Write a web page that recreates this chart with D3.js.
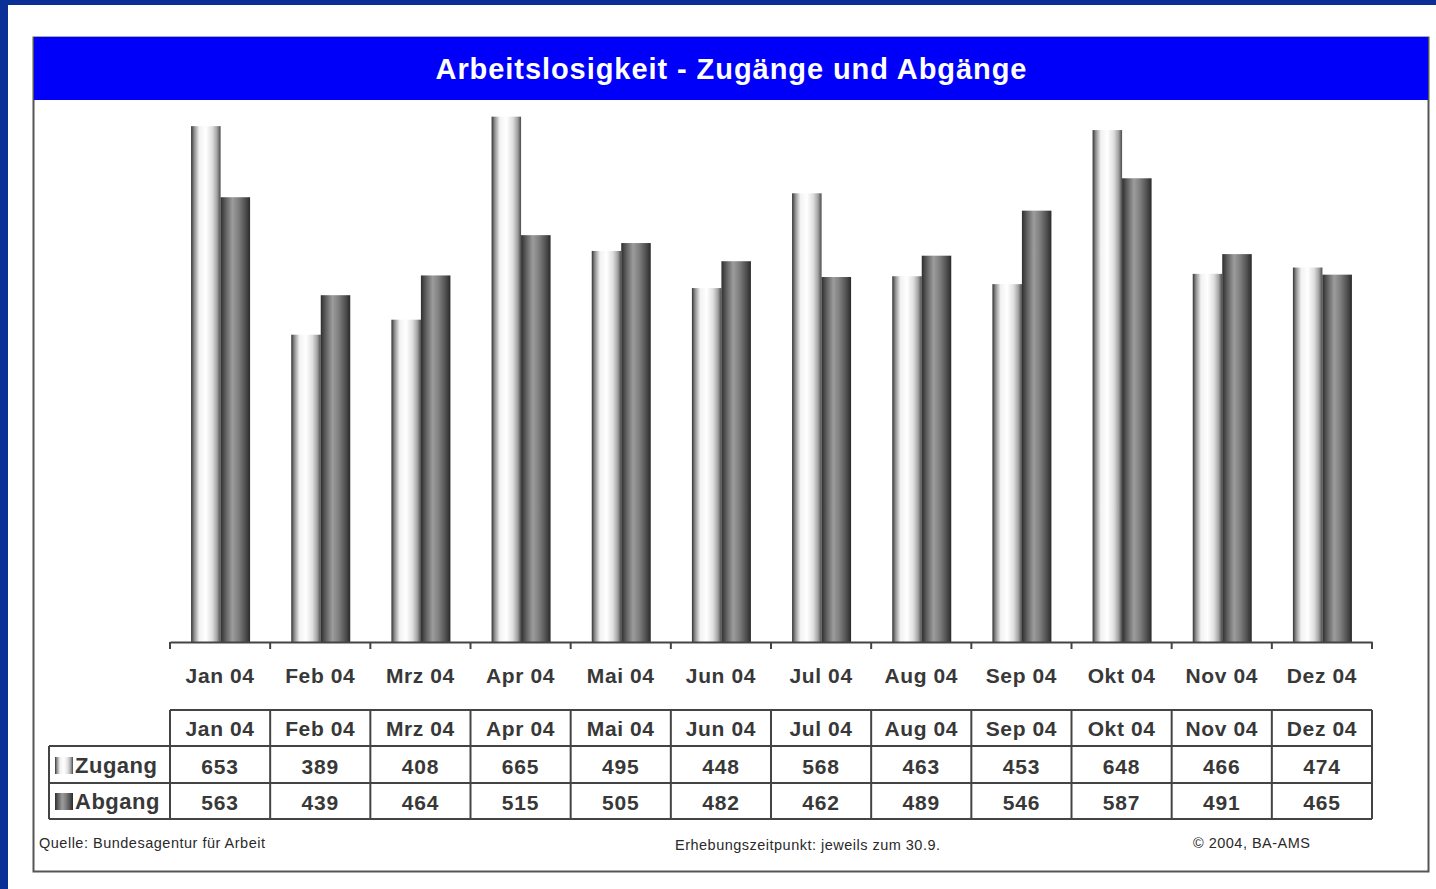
<!DOCTYPE html>
<html>
<head>
<meta charset="utf-8">
<script src="https://cdn.jsdelivr.net/npm/d3@7"></script>
<style>
  html, body { margin: 0; padding: 0; background: #fff; }
  svg { display: block; font-family: "Liberation Sans", Arial, sans-serif; }
</style>
</head>
<body>
<div id="chart"></div>
<script>
var months = ["Jan 04", "Feb 04", "Mrz 04", "Apr 04", "Mai 04", "Jun 04",
              "Jul 04", "Aug 04", "Sep 04", "Okt 04", "Nov 04", "Dez 04"];
var zugang = [653, 389, 408, 665, 495, 448, 568, 463, 453, 648, 466, 474];
var abgang = [563, 439, 464, 515, 505, 482, 462, 489, 546, 587, 491, 465];
var seriesNames = ["Zugang", "Abgang"];

var width = 1436, height = 889;
var textColor = "#383838";
var lineColor = "#444";

var svg = d3.select("#chart").append("svg")
    .attr("width", width)
    .attr("height", height);

// gradients for the cylinder look of the bars
var defs = svg.append("defs");
var gradStops = {
  gZugang: [[0, "#333"], [0.1, "#8a8a8a"], [0.28, "#f2f2f2"], [0.5, "#ffffff"],
            [0.72, "#dedede"], [0.88, "#a2a2a2"], [1, "#4a4a4a"]],
  gAbgang: [[0, "#2e2e2e"], [0.15, "#5a5a5a"], [0.4, "#9c9c9c"], [0.6, "#808080"],
            [0.85, "#4e4e4e"], [1, "#2a2a2a"]]
};
Object.keys(gradStops).forEach(function(id){
  var lg = defs.append("linearGradient").attr("id", id)
      .attr("x1", "0").attr("x2", "1").attr("y1", "0").attr("y2", "0");
  gradStops[id].forEach(function(s){
    lg.append("stop").attr("offset", s[0]).attr("stop-color", s[1]);
  });
});

// outer blue frame
svg.append("rect").attr("x", 0).attr("y", 0).attr("width", width).attr("height", 5).attr("fill", "#0a2f96");
svg.append("rect").attr("x", 0).attr("y", 0).attr("width", 8).attr("height", height).attr("fill", "#0a2f96");

// panel
svg.append("rect")
    .attr("x", 33.5).attr("y", 37.5)
    .attr("width", 1395).attr("height", 834)
    .attr("fill", "#fff")
    .attr("stroke", "#555").attr("stroke-width", 2);

// title bar
svg.append("rect")
    .attr("x", 34).attr("y", 37)
    .attr("width", 1394).attr("height", 63)
    .attr("fill", "#0000fa");
svg.append("text")
    .attr("x", 731).attr("y", 79)
    .attr("text-anchor", "middle")
    .attr("fill", "#fff")
    .attr("font-size", 29).attr("font-weight", "bold")
    .attr("textLength", 591)
    .text("Arbeitslosigkeit - Zugänge und Abgänge");

// scales
var x = d3.scaleBand().domain(months).range([170, 1372]).paddingInner(0).paddingOuter(0);
var y = d3.scaleLinear().domain([0, 700]).range([642, 89]);
var barW = 29.5;

var data = months.map(function(m, i){ return {m: m, z: zugang[i], a: abgang[i]}; });

var g = svg.append("g");
g.selectAll(".z").data(data).enter().append("rect")
    .attr("class", "z")
    .attr("x", function(d){ return x(d.m) + x.bandwidth()/2 - barW + 0.5; })
    .attr("y", function(d){ return y(d.z); })
    .attr("width", barW)
    .attr("height", function(d){ return y(0) - y(d.z); })
    .attr("fill", "url(#gZugang)");
g.selectAll(".a").data(data).enter().append("rect")
    .attr("class", "a")
    .attr("x", function(d){ return x(d.m) + x.bandwidth()/2 + 0.5; })
    .attr("y", function(d){ return y(d.a); })
    .attr("width", barW)
    .attr("height", function(d){ return y(0) - y(d.a); })
    .attr("fill", "url(#gAbgang)");

// category axis
var xAxis = svg.append("g")
    .attr("transform", "translate(0," + y(0) + ")")
    .call(d3.axisBottom(x).tickSize(0).tickPadding(26));
xAxis.select(".domain").attr("stroke", lineColor).attr("stroke-width", 2);
xAxis.selectAll(".tick text")
    .attr("fill", textColor).attr("font-size", 21).attr("font-weight", "bold")
    .attr("letter-spacing", 0.6)
    .attr("font-family", "Liberation Sans, Arial, sans-serif");
// tick marks at band boundaries
svg.append("g").selectAll("line")
    .data(months.concat(["end"])).enter().append("line")
    .attr("x1", function(d, i){ return i < months.length ? x(d) : x.range()[1]; })
    .attr("x2", function(d, i){ return i < months.length ? x(d) : x.range()[1]; })
    .attr("y1", y(0)).attr("y2", y(0) + 7)
    .attr("stroke", lineColor).attr("stroke-width", 2);

// data table
var rowTop = 710, rowH = 36;
var rows = [months, zugang, abgang];
var tbl = svg.append("g");
// cell text
rows.forEach(function(r, ri){
  tbl.selectAll(".r" + ri).data(r).enter().append("text")
      .attr("x", function(d, i){ return x(months[i]) + x.bandwidth()/2; })
      .attr("y", rowTop + ri * rowH + rowH/2 + 8 + (ri > 0 ? 2 : 0))
      .attr("text-anchor", "middle")
      .attr("fill", textColor)
      .attr("font-size", 21).attr("font-weight", "bold")
      .attr("letter-spacing", ri === 0 ? 0.6 : 0.8)
      .text(function(d){ return d; });
});
// grid lines
var tableBottom = rowTop + 3 * rowH + 1;
var hLines = [
  [170, 1372, rowTop],
  [49, 1372, rowTop + rowH],
  [49, 1372, rowTop + 2 * rowH + 1],
  [49, 1372, tableBottom]
];
tbl.selectAll(".hl").data(hLines).enter().append("line")
    .attr("x1", function(d){ return d[0]; }).attr("x2", function(d){ return d[1]; })
    .attr("y1", function(d){ return d[2]; }).attr("y2", function(d){ return d[2]; })
    .attr("stroke", lineColor).attr("stroke-width", 2);
var vx = months.map(function(m){ return x(m); }).concat([x.range()[1]]);
tbl.selectAll(".vl").data(vx).enter().append("line")
    .attr("x1", function(d){ return d; }).attr("x2", function(d){ return d; })
    .attr("y1", rowTop).attr("y2", tableBottom)
    .attr("stroke", lineColor).attr("stroke-width", 2);
tbl.append("line")
    .attr("x1", 49).attr("x2", 49)
    .attr("y1", rowTop + rowH).attr("y2", tableBottom)
    .attr("stroke", lineColor).attr("stroke-width", 2);

// legend labels in table
seriesNames.forEach(function(name, i){
  var cy = rowTop + (i + 1) * rowH + rowH/2 + 1;
  tbl.append("rect")
      .attr("x", 55).attr("y", cy - 8)
      .attr("width", 18).attr("height", 17)
      .attr("fill", i === 0 ? "url(#gZugang)" : "url(#gAbgang)");
  tbl.append("text")
      .attr("x", 75).attr("y", cy + 8)
      .attr("fill", textColor)
      .attr("font-size", 22).attr("font-weight", "bold")
      .attr("letter-spacing", 0.5)
      .text(name);
});

// footer notes
var foot = svg.append("g")
    .attr("fill", "#2a2a2a")
    .attr("font-size", 14.5)
    .attr("font-family", "Liberation Sans, Arial, sans-serif");
foot.append("text").attr("x", 39).attr("y", 848).attr("textLength", 226).text("Quelle: Bundesagentur für Arbeit");
foot.append("text").attr("x", 675).attr("y", 850).attr("textLength", 265).text("Erhebungszeitpunkt: jeweils zum 30.9.");
foot.append("text").attr("x", 1193).attr("y", 848).attr("textLength", 117).text("© 2004, BA-AMS");
</script>
</body>
</html>
